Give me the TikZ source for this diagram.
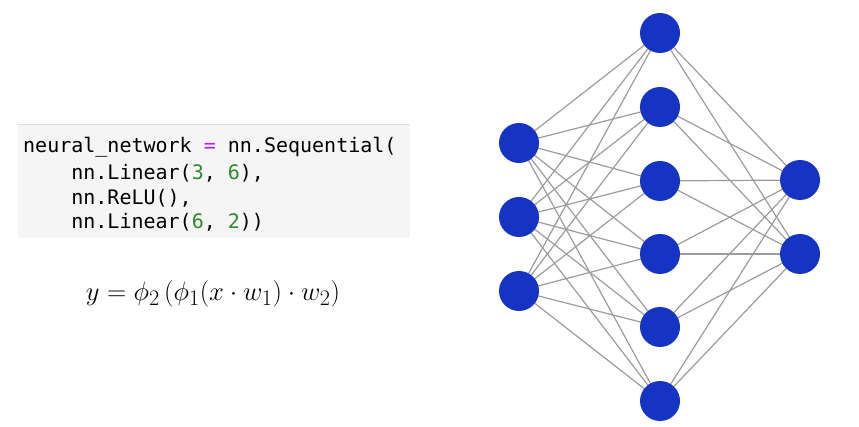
\documentclass[tikz,border=0pt]{standalone}
\usepackage{graphicx}
\usepackage{fontspec}
\setmonofont{DejaVu Sans Mono}
\definecolor{neuron}{HTML}{1634C4}
\definecolor{wire}{HTML}{9C9C9C}
\definecolor{codebg}{HTML}{F5F5F5}
\definecolor{codeborder}{HTML}{DDDDDD}
\definecolor{oppurple}{HTML}{AA22FF}
\definecolor{numgreen}{HTML}{2E8B2E}
\newcommand{\codefont}{\fontsize{20}{24}\selectfont\ttfamily}
\newcommand{\ind}{\hphantom{xxxx}}
\tikzset{
  unit/.style={circle, fill=neuron, minimum size=40pt, inner sep=0pt},
  link/.style={draw=wire, line width=1.2pt},
  codetext/.style={anchor=west, inner sep=0pt, font=\codefont},
}
\begin{document}
\begin{tikzpicture}[x=1pt, y=-1pt]
\useasboundingbox[fill=white] (0,0) rectangle (859,427);
% code listing
\node[fill=codebg, minimum width=392pt, minimum height=113pt, anchor=north west, inner sep=0pt] (box) at (18,125) {};
\draw[codeborder, line width=1pt] (box.north west) -- (box.north east);
\node[codetext] (l1) at (23,147) {neural\_network \textcolor{oppurple}{=} nn.Sequential(};
\node[codetext] (l2) at (23,173) {\ind nn.Linear(\textcolor{numgreen}{3}, \textcolor{numgreen}{6}),};
\node[codetext] (l3) at (23,198) {\ind nn.ReLU(),};
\node[codetext] (l4) at (23,222) {\ind nn.Linear(\textcolor{numgreen}{6}, \textcolor{numgreen}{2}))};
% formula
\node[font=\fontsize{24.88}{30}\selectfont] (eq) at (213,294) {\scalebox{1.07}{$y = \phi_2\left(\phi_1(x\cdot w_1)\cdot w_2\right)$}};
% network
\foreach \i/\y in {1/143, 2/217, 3/291}
  \coordinate (in\i) at (519,\y);
\foreach \j/\y in {1/33, 2/107, 3/181, 4/254, 5/327, 6/401}
  \coordinate (hid\j) at (660,\y);
\foreach \k/\y in {1/180, 2/254}
  \coordinate (out\k) at (800,\y);
\foreach \i in {1,2,3}
  \foreach \j in {1,...,6}
    \draw[link] (in\i) -- (hid\j);
\foreach \j in {1,...,6}
  \foreach \k in {1,2}
    \draw[link] (hid\j) -- (out\k);
\foreach \i in {1,2,3}
  \node[unit] at (in\i) {};
\foreach \j in {1,...,6}
  \node[unit] at (hid\j) {};
\foreach \k in {1,2}
  \node[unit] at (out\k) {};
\end{tikzpicture}
\end{document}
